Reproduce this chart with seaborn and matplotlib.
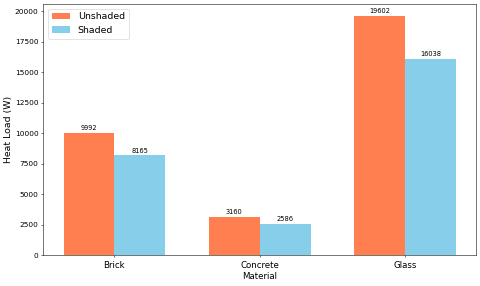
import matplotlib
matplotlib.use('Agg')
import matplotlib.pyplot as plt
import seaborn as sns
import pandas as pd

# heat load per wall material, with and without shading
materials = ['Brick', 'Concrete', 'Glass']
unshaded = [9992, 3160, 19602]
shaded = [8165, 2586, 16038]

df = pd.DataFrame({'Material': materials * 2,
                   'Heat Load (W)': unshaded + shaded,
                   'Condition': ['Unshaded'] * 3 + ['Shaded'] * 3})

fig, ax = plt.subplots(figsize=(10, 5.96), dpi=48)
sns.barplot(data=df, x='Material', y='Heat Load (W)', hue='Condition',
            palette={'Unshaded': 'coral', 'Shaded': 'skyblue'},
            width=0.7, saturation=1, errorbar=None, ax=ax)

for c in ax.containers:
    ax.bar_label(c, padding=3, fontsize=10)

ax.set_xlabel('Material', fontsize=13, labelpad=3)
ax.set_ylabel('Heat Load (W)', fontsize=14, labelpad=2)
ax.tick_params(axis='x', labelsize=13, pad=5)
ax.tick_params(axis='y', labelsize=11)
ax.set_xlim(-0.49, 2.49)
ax.set_ylim(0, 20582)
ax.legend(title=None, fontsize=14, loc='upper left')

plt.subplots_adjust(left=0.09, right=0.992, bottom=0.108, top=0.986)
plt.savefig('out.png', dpi=48)
